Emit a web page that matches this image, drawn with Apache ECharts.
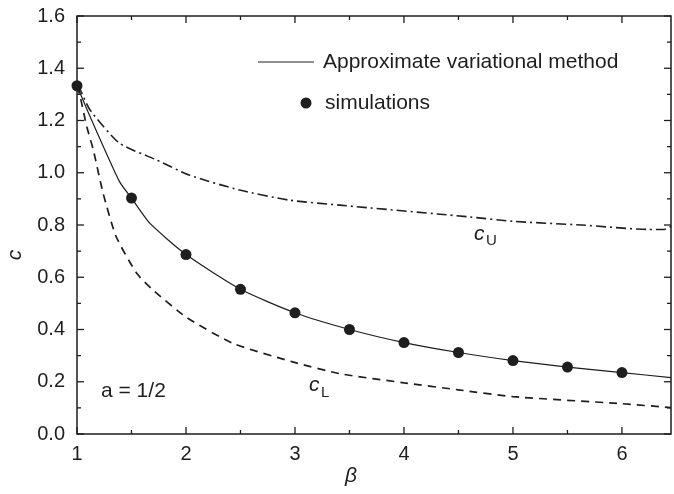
<!DOCTYPE html>
<html>
<head>
<meta charset="utf-8">
<script src="https://cdn.jsdelivr.net/npm/echarts@6/dist/echarts.min.js"></script>
<style>
html,body{margin:0;padding:0;background:#fff;}
#main{width:674px;height:494px;}
</style>
</head>
<body>
<div id="main"></div>
<script>
// values (beta, c)
var simBeta = [1, 1.5, 2, 2.5, 3, 3.5, 4, 4.5, 5, 5.5, 6];
var simC = [1.333, 0.903, 0.687, 0.554, 0.464, 0.400, 0.350, 0.312, 0.281, 0.256, 0.235];

//变分近似曲线
var varBeta = [1, 1.12, 1.39, 1.5, 1.67, 2, 2.5, 3, 3.5, 4, 4.5, 5, 5.5, 6, 6.45];
var varC = [1.333, 1.215, 0.966, 0.903, 0.806, 0.687, 0.554, 0.464, 0.400, 0.350, 0.312, 0.281, 0.256, 0.235, 0.216];

//上界 c_U
var upBeta = [1, 1.03, 1.12, 1.39, 1.73, 2.03, 2.49, 2.95, 3.41, 4.6, 5, 5.63, 6.24, 6.39, 6.45];
var upC = [1.333, 1.317, 1.24, 1.113, 1.049, 0.991, 0.934, 0.895, 0.876, 0.831, 0.814, 0.80, 0.783, 0.783, 0.795];

//下界 c_L
var lowBeta = [1, 1.03, 1.09, 1.15, 1.24, 1.36, 1.55, 1.70, 2, 2.43, 2.98, 3.41, 4, 4.5, 5, 6, 6.45];
var lowC = [1.333, 1.29, 1.176, 1.087, 0.921, 0.755, 0.614, 0.55, 0.448, 0.347, 0.276, 0.231, 0.196, 0.169, 0.143, 0.116, 0.101];

//刻度
var xMajor = [1, 2, 3, 4, 5, 6];
var xMinor = [1.5, 2.5, 3.5, 4.5, 5.5];
var yMajor = [0, 0.2, 0.4, 0.6, 0.8, 1.0, 1.2, 1.4, 1.6];
var yMinor = [0.1, 0.3, 0.5, 0.7, 0.9, 1.1, 1.3, 1.5];

var xMin = 1, xMax = 6.45, yMin = 0, yMax = 1.6;

function pairs(xs, ys){
	var out = [];
	for(var i=0;i<xs.length;i++){
		out.push([xs[i], ys[i]]);
	}
	return out;
}

var ink = '#1e1e1e';
var font = 'Liberation Sans, Arial, sans-serif';

//刻度线数据: [x, y, 是否主刻度]
var xTickData = [], yTickData = [];
for(var i=0;i<xMajor.length;i++) xTickData.push([xMajor[i], yMin, 1]);
for(var i=0;i<xMinor.length;i++) xTickData.push([xMinor[i], yMin, 0]);
for(var i=0;i<yMajor.length;i++) yTickData.push([xMin, yMajor[i], 1]);
for(var i=0;i<yMinor.length;i++) yTickData.push([xMin, yMinor[i], 0]);

function tickLine(x1, y1, x2, y2){
	return {type:'line', shape:{x1:x1, y1:y1, x2:x2, y2:y2}, style:{stroke:ink, lineWidth:1.3}};
}
//x轴刻度 上下两边朝内
function renderXTick(params, api){
	var v = api.value(0);
	var len = api.value(2) ? 7 : 4;
	var b = api.coord([v, yMin]);
	var t = api.coord([v, yMax]);
	return {type:'group', children:[tickLine(b[0], b[1], b[0], b[1]-len), tickLine(t[0], t[1], t[0], t[1]+len)]};
}
//y轴刻度 左右两边朝内
function renderYTick(params, api){
	var v = api.value(1);
	var len = api.value(2) ? 7 : 4;
	var l = api.coord([xMin, v]);
	var r = api.coord([xMax, v]);
	return {type:'group', children:[tickLine(l[0], l[1], l[0]+len, l[1]), tickLine(r[0], r[1], r[0]-len, r[1])]};
}

var chart = echarts.init(document.getElementById('main'));
var option = {
	animation:false,
	backgroundColor:'#fff',
	grid:{left:77, right:1, top:16, bottom:60, show:true, backgroundColor:'transparent',
		borderColor:ink, borderWidth:1.5},
	xAxis:{
		type:'value', min:xMin, max:xMax, interval:1,
		axisLine:{show:false}, axisTick:{show:false},
		axisLabel:{color:ink, fontSize:20, fontFamily:font, margin:10,
			formatter:function(v){ return xMajor.indexOf(v) >= 0 ? String(v) : ''; }},
		splitLine:{show:false}
	},
	yAxis:{
		type:'value', min:yMin, max:yMax, interval:0.2,
		axisLine:{show:false}, axisTick:{show:false},
		axisLabel:{color:ink, fontSize:20, fontFamily:font, margin:12,
			formatter:function(v){ return v.toFixed(1); }},
		splitLine:{show:false}
	},
	series:[
		{name:'xTicks', type:'custom', data:xTickData, renderItem:renderXTick, silent:true, clip:false, z:1},
		{name:'yTicks', type:'custom', data:yTickData, renderItem:renderYTick, silent:true, clip:false, z:1},
		{name:'Approximate variational method', type:'line', data:pairs(varBeta, varC), smooth:0.2,
			symbol:'none', lineStyle:{color:ink, width:1.2}, z:3},
		{name:'c_U', type:'line', data:pairs(upBeta, upC), smooth:0.2, symbol:'none',
			lineStyle:{color:ink, width:1.6, type:[10,4,2,4]}, z:2},
		{name:'c_L', type:'line', data:pairs(lowBeta, lowC), smooth:0.2, symbol:'none',
			lineStyle:{color:ink, width:1.7, type:[8,6]}, z:2},
		{name:'simulations', type:'scatter', data:pairs(simBeta, simC), symbol:'circle', symbolSize:11,
			itemStyle:{color:ink, opacity:1}, z:4}
	],
	graphic:[
		//图例
		{type:'line', shape:{x1:258, y1:62, x2:314, y2:62}, style:{stroke:ink, lineWidth:1.2}},
		{type:'text', x:323, y:62, style:{text:'Approximate variational method', font:'21px '+font, fill:ink, verticalAlign:'middle'}},
		{type:'circle', shape:{cx:306, cy:103, r:5.5}, style:{fill:ink}},
		{type:'text', x:325, y:103, style:{text:'simulations', font:'21px '+font, fill:ink, verticalAlign:'middle'}},
		//轴名和标注
		{type:'text', left:345, top:466, style:{text:'β', font:'italic 21px '+font, fill:ink}},
		{type:'text', x:15, y:255, rotation:Math.PI/2,
			style:{text:'c', font:'italic 21px '+font, fill:ink, align:'center', verticalAlign:'middle'}},
		{type:'text', left:101, top:381, style:{text:'a = 1/2', font:'21px '+font, fill:ink}},
		{type:'text', left:474, top:224, style:{text:'c', font:'italic 21px '+font, fill:ink}},
		{type:'text', left:486, top:233, style:{text:'U', font:'15px '+font, fill:ink}},
		{type:'text', left:309, top:375, style:{text:'c', font:'italic 21px '+font, fill:ink}},
		{type:'text', left:321, top:385, style:{text:'L', font:'15px '+font, fill:ink}}
	]
};
chart.setOption(option);
</script>
</body>
</html>
